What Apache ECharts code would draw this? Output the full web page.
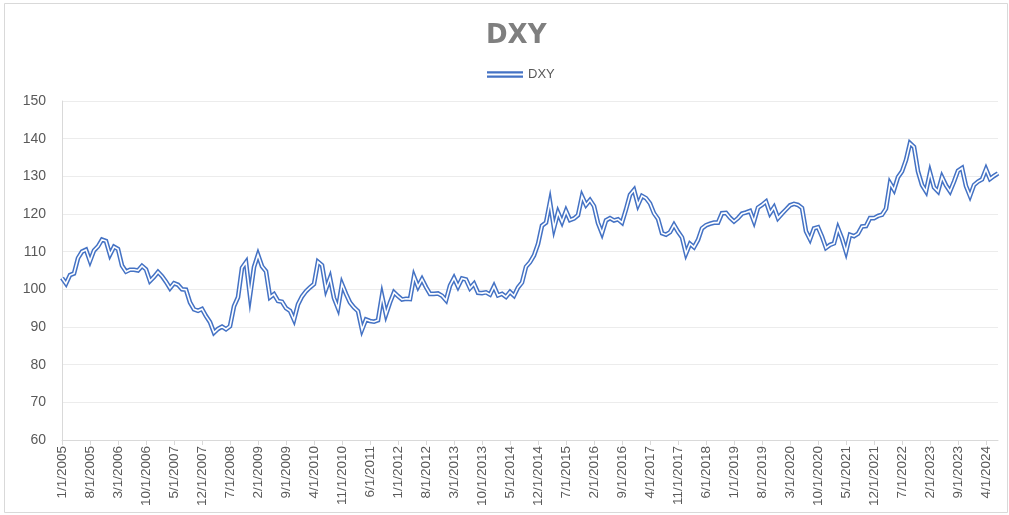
<!DOCTYPE html>
<html>
<head>
<meta charset="utf-8">
<script src="https://cdn.jsdelivr.net/npm/echarts@6/dist/echarts.min.js"></script>
<style>
  html, body { margin: 0; padding: 0; background: #fff; }
  #chart { width: 1009px; height: 515px; }
</style>
</head>
<body>
<div id="chart"></div>
<script>
// monthly values, Jan 2005 .. Jul 2024
var dxy = [
  103, 101.5, 103.8, 104.2, 108.3, 110, 110.5, 107.5, 110.3, 111.4, 113.2, 112.8,
  109.2, 111.3, 110.7, 106.3, 104.7, 105.2, 105.2, 105, 106.2, 105.3, 102.2, 103.3,
  104.6, 103.5, 102, 100.3, 101.6, 101.2, 100, 99.9, 96.5, 94.7, 94.3, 94.8,
  92.9, 91.3, 88.5, 89.5, 90.1, 89.4, 90.2, 95.5, 97.9, 105.7, 107.2, 98.3,
  105.9, 109.2, 106.1, 104.8, 97.9, 98.7, 96.9, 96.7, 95, 94.3, 91.9, 96,
  98.1, 99.5, 100.5, 101.4, 107.3, 106.4, 100.1, 103, 97.7, 95, 101.4, 98.8,
  96.5, 95.2, 94.2, 89.3, 92, 91.6, 91.4, 91.8, 98.3, 93.3, 96.5, 99.2,
  98.2, 97.3, 97.5, 97.4, 103.4, 100.7, 102.7, 100.6, 98.8, 98.8, 98.9, 98.3,
  97.1, 101, 103, 100.7, 102.9, 102.6, 100.3, 101.5, 99.1, 99, 99.2, 98.6,
  100.8, 98.4, 98.8, 98, 99.3, 98.3, 100.5, 101.8, 106, 107.2, 109, 112,
  116.9, 117.7, 123.2, 116.3, 120.4, 117.9, 120.8, 118.4, 118.8, 119.7, 124.7, 122.4,
  123.7, 122.1, 117.6, 114.9, 118.3, 118.9, 118.3, 118.6, 117.7, 121.2, 125.1, 126.4,
  122.4, 124.8, 124.2, 122.8, 120.2, 118.7, 114.9, 114.5, 115.2, 117.1, 115.3, 113.8,
  109.5, 112.1, 111.2, 113.1, 116.2, 117, 117.4, 117.7, 117.7, 120.2, 120.3, 119,
  118, 118.9, 120.1, 120.4, 120.8, 118, 121.7, 122.4, 123.3, 120.2, 121.8, 118.9,
  120.1, 121.2, 122.3, 122.7, 122.4, 121.6, 115.4, 113.3, 116.2, 116.5, 114, 111,
  111.8, 112.2, 116.2, 113.5, 110, 114.5, 114.1, 114.8, 116.7, 116.8, 118.9, 118.9,
  119.5, 119.8, 121.4, 128.2, 126.4, 129.8, 131.3, 134.3, 138.8, 137.8, 131.3, 127.7,
  126, 131, 127.1, 126, 129.8, 127.6, 126, 128.6, 131.5, 132.2, 127.4, 124.8,
  127.7, 128.6, 129.2, 131.9, 129.3, 130.1, 130.8
]

var dates = []
for (var i = 0; i < dxy.length; i++) {
  var mon = i % 12 + 1
  var yr = 2005 + Math.floor(i / 12)
  dates.push(mon + '/1/' + yr)
}

var yTicks = { min: 60, max: 150, step: 10 }

var chart = echarts.init(document.getElementById('chart'))
chart.setOption({
  animation: false,
  backgroundColor: '#fff',
  graphic: [{
    type: 'rect',
    shape: { x: 4.5, y: 3.5, width: 1003, height: 509 },
    style: { fill: 'none', stroke: '#d9d9d9', lineWidth: 1 },
    silent: true
  }],
  title: {
    text: 'DXY',
    left: 481,
    top: 18,
    textStyle: {
      color: '#7f7f7f',
      fontSize: 26,
      fontWeight: 'bold',
      fontFamily: 'DejaVu Sans, sans-serif'
    }
  },
  legend: {
    top: 63,
    left: 482,
    itemWidth: 36,
    itemHeight: 8,
    itemGap: 4,
    textStyle: { color: '#595959', fontSize: 13, fontFamily: 'Liberation Sans, sans-serif' },
    data: [{ name: 'DXY', icon: 'path://M0,0H36V2.2H0Z M0,4.4H36V6.6H0Z' }]
  },
  grid: { left: 62, right: 11, top: 101, bottom: 75 },
  xAxis: {
    type: 'category',
    data: dates,
    boundaryGap: false,
    axisLine: { lineStyle: { color: '#d9d9d9' } },
    axisTick: { interval: 6, length: 5, lineStyle: { color: '#d9d9d9' } },
    axisLabel: {
      interval: 6,
      rotate: 90,
      color: '#595959',
      fontSize: 13.5,
      margin: 6,
      fontFamily: 'Liberation Sans, sans-serif'
    },
    splitLine: { show: false }
  },
  yAxis: {
    type: 'value',
    min: yTicks.min,
    max: yTicks.max,
    interval: yTicks.step,
    axisLine: { show: true, lineStyle: { color: '#d9d9d9' } },
    axisTick: { show: false },
    axisLabel: { color: '#595959', fontSize: 14, margin: 16, fontFamily: 'Liberation Sans, sans-serif' },
    splitLine: { lineStyle: { color: '#ececec' } }
  },
  series: [{
    name: 'DXY',
    type: 'line',
    data: dxy,
    symbol: 'none',
    lineStyle: { color: '#4472c4', width: 4.6, join: 'miter' },
    itemStyle: { color: '#4472c4' }
  }, {
    name: 'DXY inner',
    type: 'line',
    data: dxy,
    symbol: 'none',
    lineStyle: { color: '#ffffff', width: 1.6, join: 'miter' },
    itemStyle: { color: '#ffffff' }
  }]
})
</script>
</body>
</html>
